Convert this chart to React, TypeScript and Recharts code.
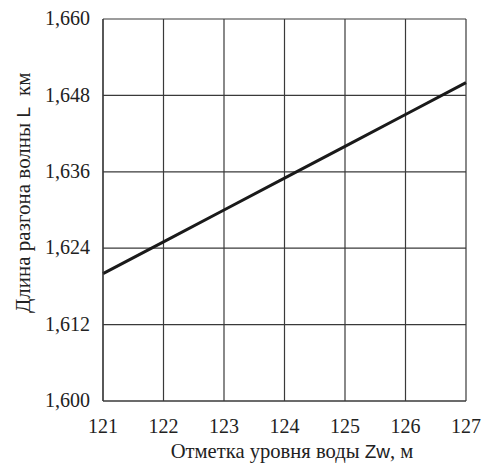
import { LineChart, Line, XAxis, YAxis, CartesianGrid, Label } from "recharts";

// water level mark, m
const levels = [121, 122, 123, 124, 125, 126, 127];
// wave fetch length, km
const fetchLength = [1.62, 1.625, 1.63, 1.635, 1.64, 1.645, 1.65];

const xTicks = [121, 122, 123, 124, 125, 126, 127];
const yTicks = [1.6, 1.612, 1.624, 1.636, 1.648, 1.66];

const data = levels.map((z, i) => ({ z, L: fetchLength[i] }));

const serif = "'Liberation Serif', 'Times New Roman', serif";
const sans = "'Liberation Sans', Arial, sans-serif";
const gridColor = "#3a3a3a";

const fmt = (v: number) => v.toFixed(3).replace(".", ",");

const XLabel = () => (
  <text x={292} y={458} textAnchor="middle" fontFamily={serif} fontSize={20.6} fill="#222">
    Отметка уровня воды <tspan fontFamily={sans} fontSize={19}>Zw</tspan>, м
  </text>
);

const YLabel = () => (
  <text
    x={30}
    y={313}
    transform="rotate(-90, 30, 313)"
    textAnchor="start"
    fontFamily={serif}
    fontSize={21}
    fill="#222"
    style={{ whiteSpace: "pre" }}
  >
    Длина разгона волны{" "}
    <tspan fontFamily={sans} fontSize={19}>L</tspan>
    <tspan dx={11}>км</tspan>
  </text>
);

export default function App() {
  return (
    <div style={{ position: "fixed", left: 0, top: 0, background: "#fff" }}>
      <LineChart
        width={491}
        height={466}
        data={data}
        margin={{ top: 19, right: 25, bottom: 0, left: 0 }}
      >
        <CartesianGrid stroke={gridColor} strokeWidth={1.2} />
        <XAxis
          dataKey="z"
          type="number"
          domain={[121, 127]}
          ticks={xTicks}
          height={65}
          tickLine={false}
          axisLine={{ stroke: gridColor, strokeWidth: 1.2 }}
          tickMargin={12}
          tick={{ fontFamily: serif, fontSize: 20, fill: "#222" }}
        >
          <Label content={<XLabel />} />
        </XAxis>
        <YAxis
          type="number"
          domain={[1.6, 1.66]}
          ticks={yTicks}
          width={103}
          tickLine={false}
          axisLine={{ stroke: gridColor, strokeWidth: 1.2 }}
          tickMargin={7}
          tickFormatter={fmt}
          tick={{ fontFamily: serif, fontSize: 20, fill: "#222", dy: -1 }}
        >
          <Label content={<YLabel />} />
        </YAxis>
        <Line
          dataKey="L"
          type="linear"
          stroke="#1a1a1a"
          strokeWidth={3}
          dot={false}
          isAnimationActive={false}
        />
      </LineChart>
    </div>
  );
}
